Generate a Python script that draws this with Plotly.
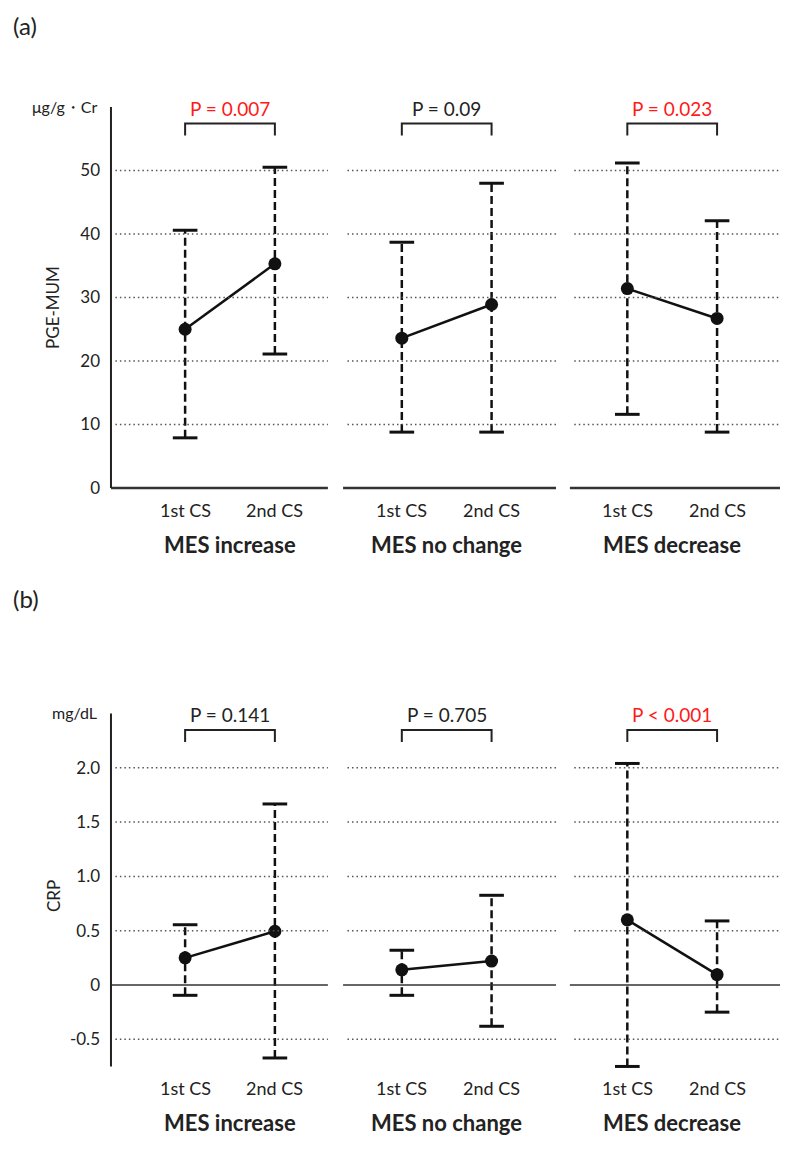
import plotly.graph_objects as go

# ---------------- data ----------------
groups = ["MES increase", "MES no change", "MES decrease"]
timepoints = ["1st CS", "2nd CS"]

pge_mean = [[25.0, 35.3], [23.6, 28.9], [31.4, 26.7]]
pge_upper = [[40.6, 50.5], [38.7, 48.0], [51.2, 42.1]]
pge_lower = [[7.9, 21.1], [8.8, 8.8], [11.6, 8.8]]
pge_p = ["P = 0.007", "P = 0.09", "P = 0.023"]
pge_sig = [True, False, True]
pge_ticks = [0, 10, 20, 30, 40, 50]
pge_ticktext = ["0", "10", "20", "30", "40", "50"]

crp_mean = [[0.25, 0.495], [0.14, 0.22], [0.60, 0.095]]
crp_upper = [[0.555, 1.667], [0.32, 0.826], [2.04, 0.59]]
crp_lower = [[-0.095, -0.672], [-0.095, -0.38], [-0.75, -0.25]]
crp_p = ["P = 0.141", "P = 0.705", "P < 0.001"]
crp_sig = [False, False, True]
crp_ticks = [-0.5, 0, 0.5, 1.0, 1.5, 2.0]
crp_ticktext = ["-0.5", "0", "0.5", "1.0", "1.5", "2.0"]

# ---------------- layout constants ----------------
W, H = 788, 1164
FONT = "Lato"
TXT = "#222222"
RED = "#ff1a1a"
GROUP_POS = [0.0, 0.985, 2.01]
HALF = 0.204
SEG = [(-0.541, 0.445), (0.514, 1.482), (1.545, 2.559)]
AXIS_X = -0.541
CAP = 0.056
XRANGE = [-222 / 220, (W - 222) / 220]

panels = [
    dict(name="(a)", mean=pge_mean, up=pge_upper, lo=pge_lower, p=pge_p, sig=pge_sig,
         ticks=pge_ticks, ticktext=pge_ticktext, unit="μg/g・Cr", title="PGE-MUM",
         ax_lo=0, ax_hi=60, rng=[-5, 65], zero_px=480, ppu=6.35,
         base_w=2.5, xa="x", ya="y", label_y=18, title_y=300),
    dict(name="(b)", mean=crp_mean, up=crp_upper, lo=crp_lower, p=crp_p, sig=crp_sig,
         ticks=crp_ticks, ticktext=crp_ticktext, unit="mg/dL", title="CRP",
         ax_lo=-0.75, ax_hi=2.5, rng=[-1.15, 2.8], zero_px=977, ppu=108.6,
         base_w=1.5, xa="x2", ya="y2", label_y=590, title_y=888),
]

fig = go.Figure()
shapes = []
annotations = []

for k, P in enumerate(panels):
    xa, ya = P["xa"], P["ya"]
    ppu = P["ppu"]
    top_px = P["zero_px"] - P["rng"][1] * ppu
    bot_px = P["zero_px"] - P["rng"][0] * ppu
    dom = [1 - bot_px / H, 1 - top_px / H]
    sfx = "" if k == 0 else "2"
    fig.update_layout(**{
        "xaxis" + sfx: dict(domain=[0, 1], range=XRANGE, visible=False, fixedrange=True,
                            anchor=ya),
        "yaxis" + sfx: dict(domain=dom, range=P["rng"], anchor="free", position=103 / W,
                            showgrid=False, zeroline=False, showline=False, ticks="",
                            tickvals=P["ticks"], ticktext=P["ticktext"],
                            tickfont=dict(family=FONT, size=17, color=TXT),
                            ticklabelstandoff=11, fixedrange=True),
    })

    # gridlines / baselines per group segment
    for (s0, s1) in SEG:
        for t in P["ticks"]:
            if t == 0:
                shapes.append(dict(type="line", xref=xa, yref=ya, x0=s0, x1=s1, y0=0, y1=0,
                                   line=dict(color="#333333", width=P["base_w"])))
            else:
                shapes.append(dict(type="line", xref=xa, yref=ya, x0=s0 + 0.02, x1=s1, y0=t, y1=t,
                                   line=dict(color="#555555", width=1.5, dash="1.5px,3px")))
    # vertical axis line
    shapes.append(dict(type="line", xref=xa, yref=ya, x0=AXIS_X, x1=AXIS_X,
                       y0=P["ax_lo"], y1=P["ax_hi"], line=dict(color="#222222", width=2)))

    # error bars, caps, means
    ex, ey, cx, cy = [], [], [], []
    for g in range(3):
        xs = [GROUP_POS[g] - HALF, GROUP_POS[g] + HALF]
        for i in range(2):
            ex += [xs[i], xs[i], None]
            ey += [P["lo"][g][i], P["up"][g][i], None]
            for v in (P["lo"][g][i], P["up"][g][i]):
                cx += [xs[i] - CAP, xs[i] + CAP, None]
                cy += [v, v, None]
    fig.add_trace(go.Scatter(x=ex, y=ey, xaxis=xa, yaxis=ya, mode="lines",
                             line=dict(color="#111111", width=2.5, dash="8px,4px"),
                             showlegend=False, hoverinfo="skip"))
    fig.add_trace(go.Scatter(x=cx, y=cy, xaxis=xa, yaxis=ya, mode="lines",
                             line=dict(color="#111111", width=3),
                             showlegend=False, hoverinfo="skip"))
    for g in range(3):
        xs = [GROUP_POS[g] - HALF, GROUP_POS[g] + HALF]
        fig.add_trace(go.Scatter(x=xs, y=P["mean"][g], xaxis=xa, yaxis=ya, mode="lines+markers",
                                 line=dict(color="#111111", width=2.5),
                                 marker=dict(color="#111111", size=13),
                                 name=groups[g], showlegend=False))

        # bracket + p value
        top = P["ax_hi"] - 16.5 / ppu
        leg = top - 12 / ppu
        shapes.append(dict(type="path", xref=xa, yref=ya,
                           path=f"M {xs[0]},{leg} L {xs[0]},{top} L {xs[1]},{top} L {xs[1]},{leg}",
                           line=dict(color="#222222", width=2)))
        annotations.append(dict(xref=xa, yref=ya, x=GROUP_POS[g], y=P["ax_hi"], yshift=-1,
                                text=P["p"][g].replace("<", "&lt;"), showarrow=False,
                                xanchor="center", yanchor="middle",
                                font=dict(family=FONT, size=19,
                                          color=RED if P["sig"][g] else TXT)))
        # x labels
        for i in range(2):
            annotations.append(dict(xref=xa, yref=ya, x=xs[i], y=P["ax_lo"], yshift=-22,
                                    text=timepoints[i], showarrow=False,
                                    xanchor="center", yanchor="middle",
                                    font=dict(family=FONT, size=18, color=TXT)))
        annotations.append(dict(xref=xa, yref=ya, x=GROUP_POS[g], y=P["ax_lo"], yshift=-56,
                                text="<b>" + groups[g] + "</b>", showarrow=False,
                                xanchor="center", yanchor="middle",
                                font=dict(family=FONT, size=22, color=TXT)))

    # unit label
    annotations.append(dict(xref="paper", yref=ya, x=91 / W, y=P["ax_hi"], yshift=1,
                            text=P["unit"], showarrow=False, xanchor="right", yanchor="middle",
                            font=dict(family=FONT, size=16, color=TXT)))
    # y title
    annotations.append(dict(xref="paper", yref="paper", x=45 / W, y=1 - P["title_y"] / H,
                            text=P["title"], showarrow=False, textangle=-90,
                            xanchor="center", yanchor="middle",
                            font=dict(family=FONT, size=17, color=TXT)))
    # panel label
    annotations.append(dict(xref="paper", yref="paper", x=3 / W, y=1 - P["label_y"] / H,
                            text=P["name"], showarrow=False, xanchor="left", yanchor="middle",
                            font=dict(family=FONT, size=24, color=TXT)))

fig.update_layout(width=W, height=H, margin=dict(l=0, r=0, t=0, b=0),
                  paper_bgcolor="white", plot_bgcolor="white",
                  shapes=shapes, annotations=annotations, showlegend=False)

fig.write_html("out.html")
